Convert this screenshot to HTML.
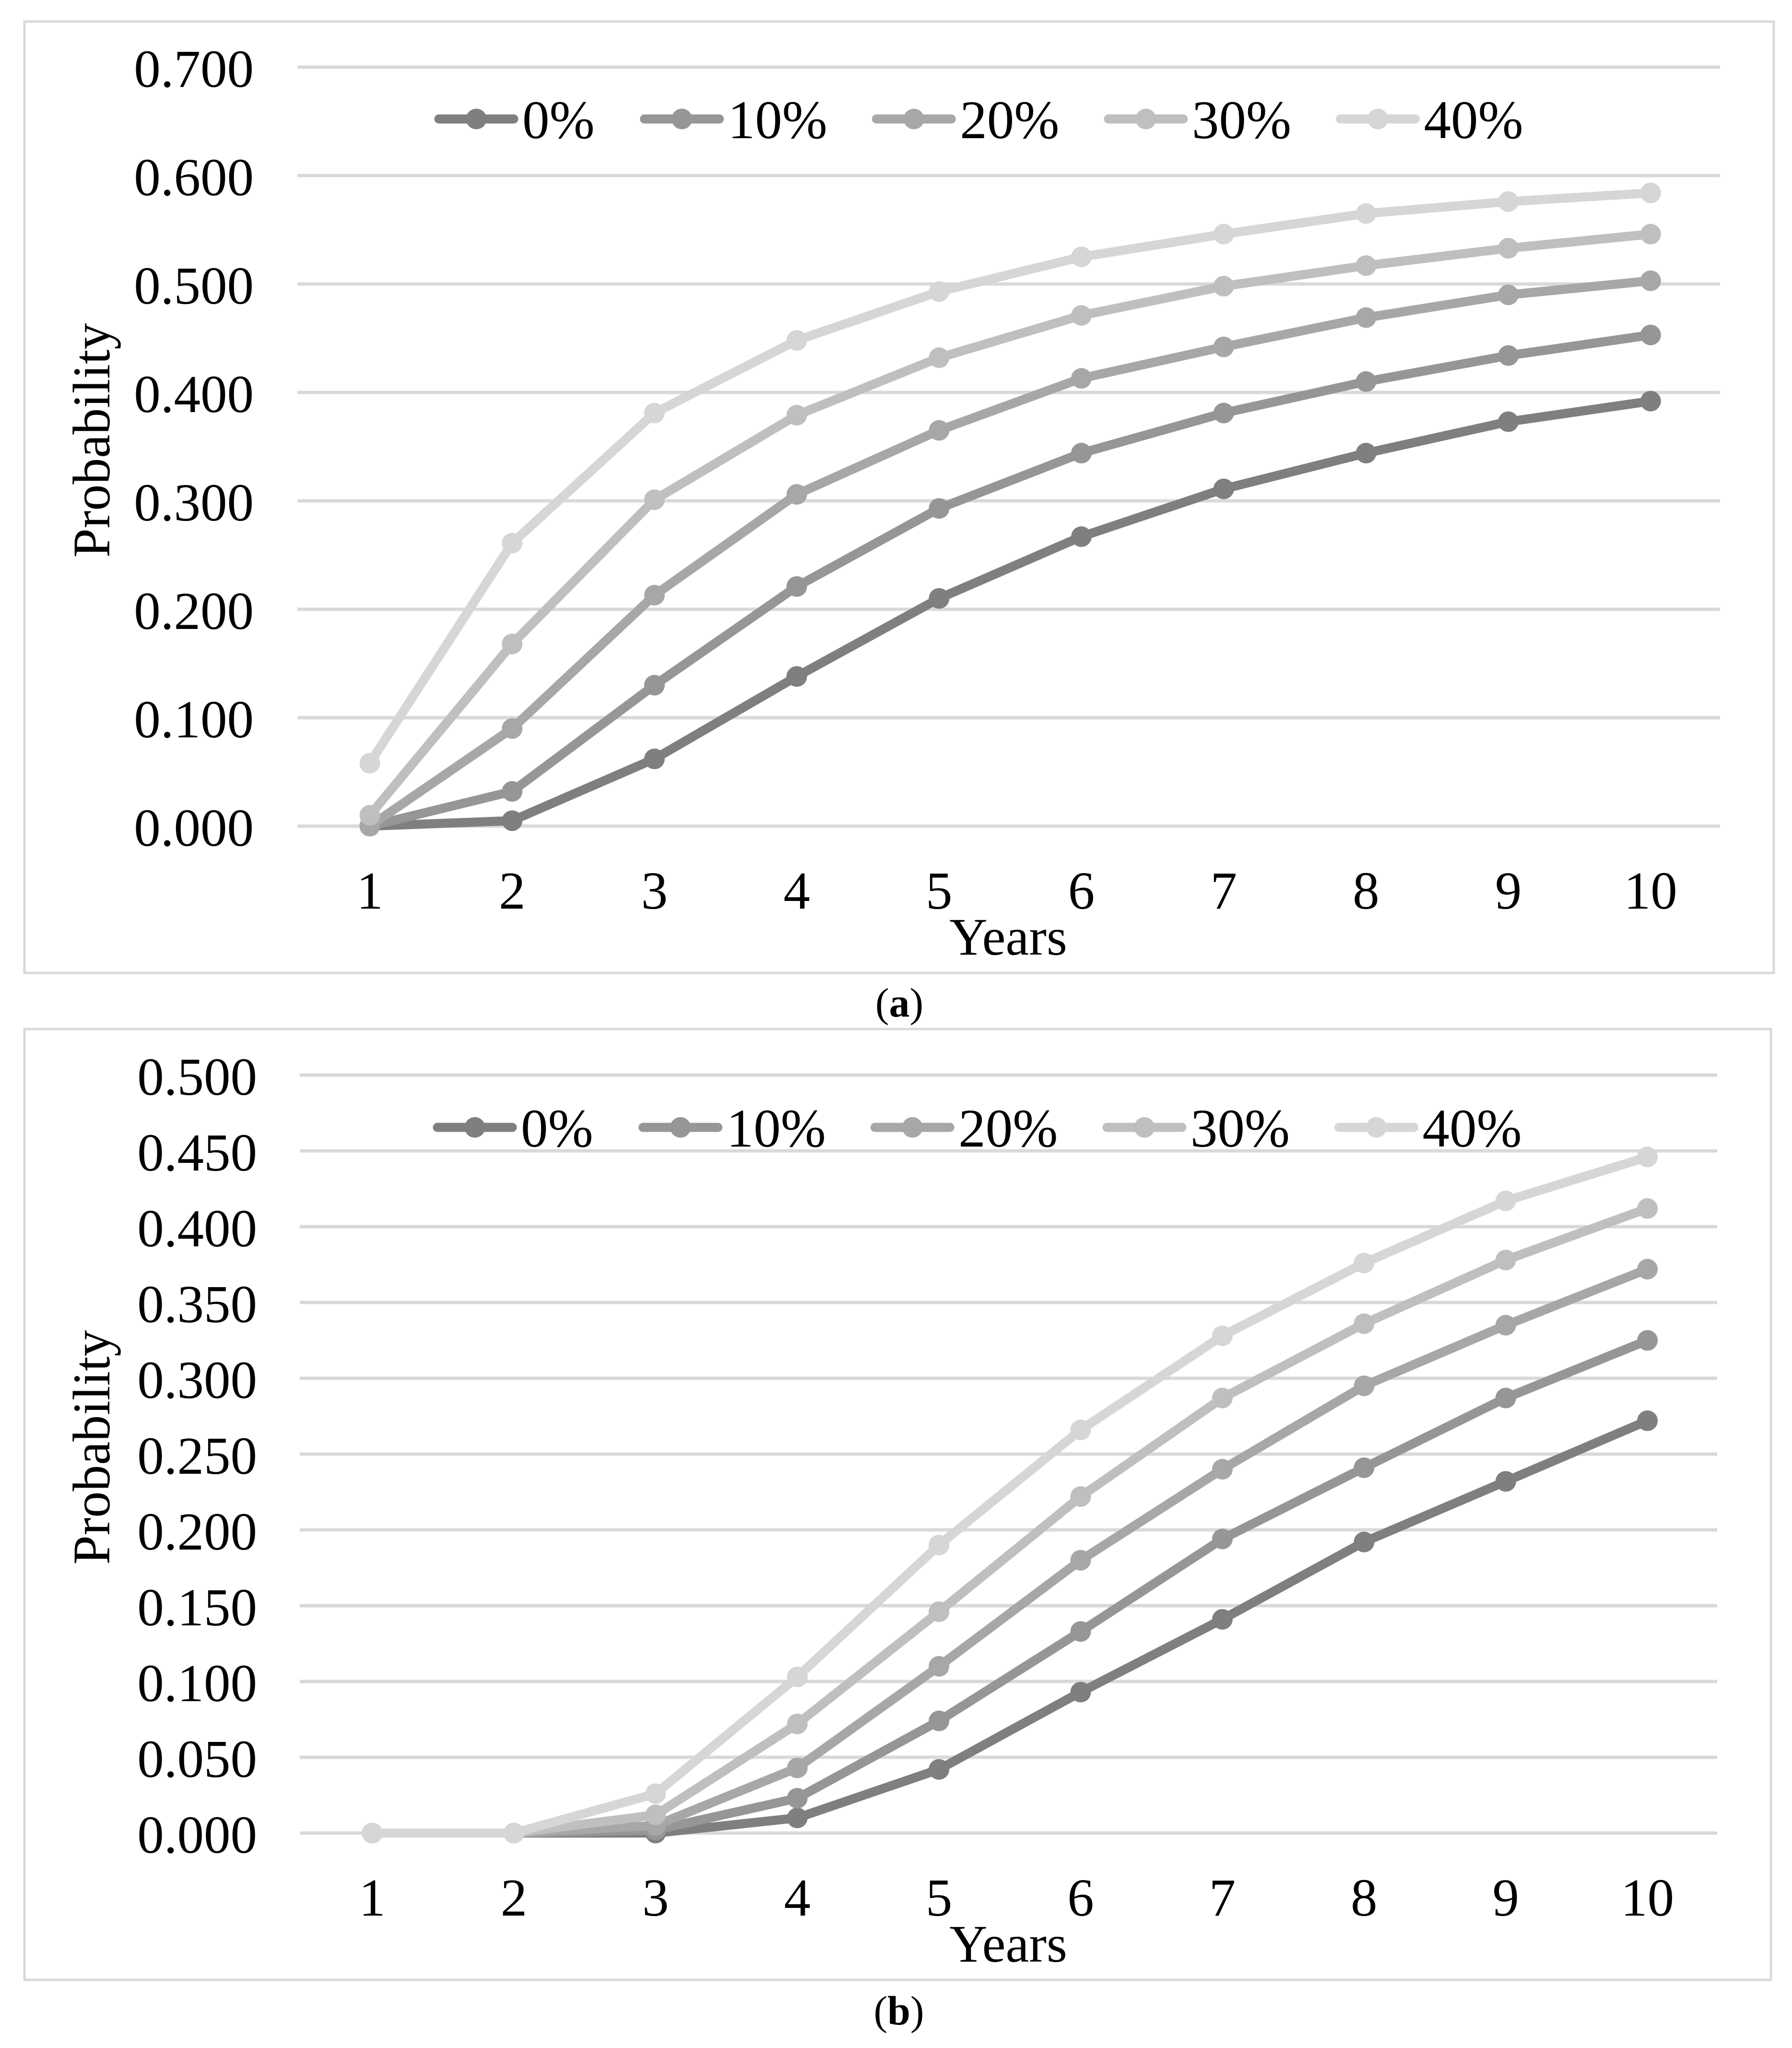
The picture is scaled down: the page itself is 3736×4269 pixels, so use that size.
<!DOCTYPE html>
<html lang="en">
<head>
<meta charset="utf-8">
<title>Probability by years</title>
<style>
html,body{margin:0;padding:0;background:#fff;width:3736px;height:4269px;overflow:hidden}
svg{display:block}
text{font-family:"Liberation Serif",serif;fill:#000}
</style>
</head>
<body>
<svg id="figure" xmlns="http://www.w3.org/2000/svg" width="3736" height="4269" viewBox="0 0 3736 4269"></svg>
<script>
var categories = ["1","2","3","4","5","6","7","8","9","10"];
var seriesLabels = ["0%","10%","20%","30%","40%"];
var seriesColors = ["#7f7f7f","#969696","#a7a7a7","#bfbfbf","#d6d6d6"];

var yTicksA = ["0.000","0.100","0.200","0.300","0.400","0.500","0.600","0.700"];
var a0 = [0,0.005,0.062,0.138,0.210,0.267,0.311,0.344,0.373,0.392];
var a10 = [0,0.032,0.130,0.221,0.293,0.344,0.381,0.410,0.434,0.453];
var a20 = [0,0.090,0.213,0.306,0.365,0.413,0.442,0.469,0.490,0.503];
var a30 = [0.010,0.168,0.301,0.379,0.432,0.471,0.498,0.517,0.533,0.546];
var a40 = [0.058,0.261,0.381,0.448,0.493,0.525,0.546,0.565,0.576,0.584];

var yTicksB = ["0.000","0.050","0.100","0.150","0.200","0.250","0.300","0.350","0.400","0.450","0.500"];
var b0 = [0,0,0,0.010,0.042,0.093,0.141,0.192,0.232,0.272];
var b10 = [0,0,0.002,0.023,0.074,0.133,0.194,0.241,0.287,0.325];
var b20 = [0,0,0.005,0.043,0.110,0.180,0.240,0.295,0.335,0.372];
var b30 = [0,0,0.012,0.072,0.146,0.222,0.287,0.336,0.378,0.412];
var b40 = [0,0,0.026,0.103,0.190,0.266,0.328,0.376,0.417,0.446];

var NS = "http://www.w3.org/2000/svg";
var root = document.getElementById("figure");

function make(parent, tag, name) {
  var el = document.createElementNS(NS, tag);
  
  
  parent.appendChild(el);
  return el;
}

function label(parent, name, str, x, y, size, anchor) {
  var t = make(parent, "text", name);
  t.setAttribute("x", x);
  t.setAttribute("y", y);
  t.setAttribute("font-size", size);
  t.setAttribute("text-anchor", anchor);
  t.textContent = str;
  return t;
}

function drawChart(id, box, grid, xFirst, xStep, yMax, ticks, series, legendY, legendStart, tickRight, xLabelY, xTitleY, yTitleY) {
  var g = make(root, "g", "chart-" + id);

  function xAxis(i) { return xFirst + xStep * i; }
  function yAxis(v) { return grid.bottom - (grid.bottom - grid.top) * v / yMax; }

  var frame = make(g, "rect", "chart-frame");
  frame.setAttribute("x", box.x);
  frame.setAttribute("y", box.y);
  frame.setAttribute("width", box.w);
  frame.setAttribute("height", box.h);
  frame.setAttribute("fill", "#fff");
  frame.setAttribute("stroke", "#d9d9d9");
  frame.setAttribute("stroke-width", 5);

  ticks.forEach(function (tick) {
    var v = Number(tick);
    var line = make(g, "line", "gridline-" + tick);
    line.setAttribute("x1", grid.left);
    line.setAttribute("x2", grid.right);
    line.setAttribute("y1", yAxis(v));
    line.setAttribute("y2", yAxis(v));
    line.setAttribute("stroke", "#d9d9d9");
    line.setAttribute("stroke-width", 7);
    label(g, "y-tick-" + tick, tick, tickRight, yAxis(v) + 41, 111, "end");
  });

  categories.forEach(function (c, i) {
    label(g, "x-tick-" + c, c, xAxis(i), xLabelY, 111, "middle");
  });

  series.forEach(function (values, s) {
    var sg = make(g, "g", "series-" + seriesLabels[s]);
    var pts = values.map(function (v, i) { return xAxis(i) + "," + yAxis(v); }).join(" ");
    var line = make(sg, "polyline", "line-" + seriesLabels[s]);
    line.setAttribute("points", pts);
    line.setAttribute("fill", "none");
    line.setAttribute("stroke", seriesColors[s]);
    line.setAttribute("stroke-width", 19);
    line.setAttribute("stroke-linejoin", "round");
    line.setAttribute("stroke-linecap", "round");
    values.forEach(function (v, i) {
      var dot = make(sg, "circle", "point-" + seriesLabels[s] + "-year-" + categories[i]);
      dot.setAttribute("cx", xAxis(i));
      dot.setAttribute("cy", yAxis(v));
      dot.setAttribute("r", 21.5);
      dot.setAttribute("fill", seriesColors[s]);
    });
  });

  var legend = make(g, "g", "legend");
  var lx = legendStart;
  seriesLabels.forEach(function (name, s) {
    var entry = make(legend, "g", "legend-entry-" + name);
    var key = make(entry, "line", "legend-line-" + name);
    key.setAttribute("x1", lx + 9);
    key.setAttribute("x2", lx + 165);
    key.setAttribute("y1", legendY);
    key.setAttribute("y2", legendY);
    key.setAttribute("stroke", seriesColors[s]);
    key.setAttribute("stroke-width", 19);
    key.setAttribute("stroke-linecap", "round");
    var mark = make(entry, "circle", "legend-marker-" + name);
    mark.setAttribute("cx", lx + 87);
    mark.setAttribute("cy", legendY);
    mark.setAttribute("r", 21.5);
    mark.setAttribute("fill", seriesColors[s]);
    label(entry, "legend-label-" + name, name, lx + 183, legendY + 40, 113, "start");
    lx += 174 + 11 + 110 * (name.length === 2 ? 1.333 : 1.833) + 97;
  });

  label(g, "x-axis-title", "Years", 2102, xTitleY, 110, "middle");
  var yt = label(g, "y-axis-title", "Probability", 0, 0, 110, "middle");
  yt.setAttribute("transform", "translate(228 " + yTitleY + ") rotate(-90)");
}

drawChart("a",
  {x: 51, y: 45, w: 3647, h: 1983},
  {left: 620, right: 3586, top: 140, bottom: 1722},
  771, 296.7, 0.7, yTicksA, [a0, a10, a20, a30, a40],
  248, 906, 529, 1894, 1990, 918);

drawChart("b",
  {x: 51, y: 2145, w: 3641, h: 1982},
  {left: 625, right: 3580, top: 2241, bottom: 3821},
  776, 295.4, 0.5, yTicksB, [b0, b10, b20, b30, b40],
  2350, 903, 536, 3993, 4089, 3017);

function caption(name, letter, x, y, size) {
  var t = label(root, name, "", x, y, size, "middle");
  var open = document.createElementNS(NS, "tspan");
  open.textContent = "(";
  t.appendChild(open);
  var bold = document.createElementNS(NS, "tspan");
  bold.setAttribute("font-weight", "bold");
  bold.textContent = letter;
  t.appendChild(bold);
  var close = document.createElementNS(NS, "tspan");
  close.textContent = ")";
  t.appendChild(close);
}
caption("caption-a", "a", 1875, 2119, 86);
caption("caption-b", "b", 1874, 4220, 86);
</script>
</body>
</html>
